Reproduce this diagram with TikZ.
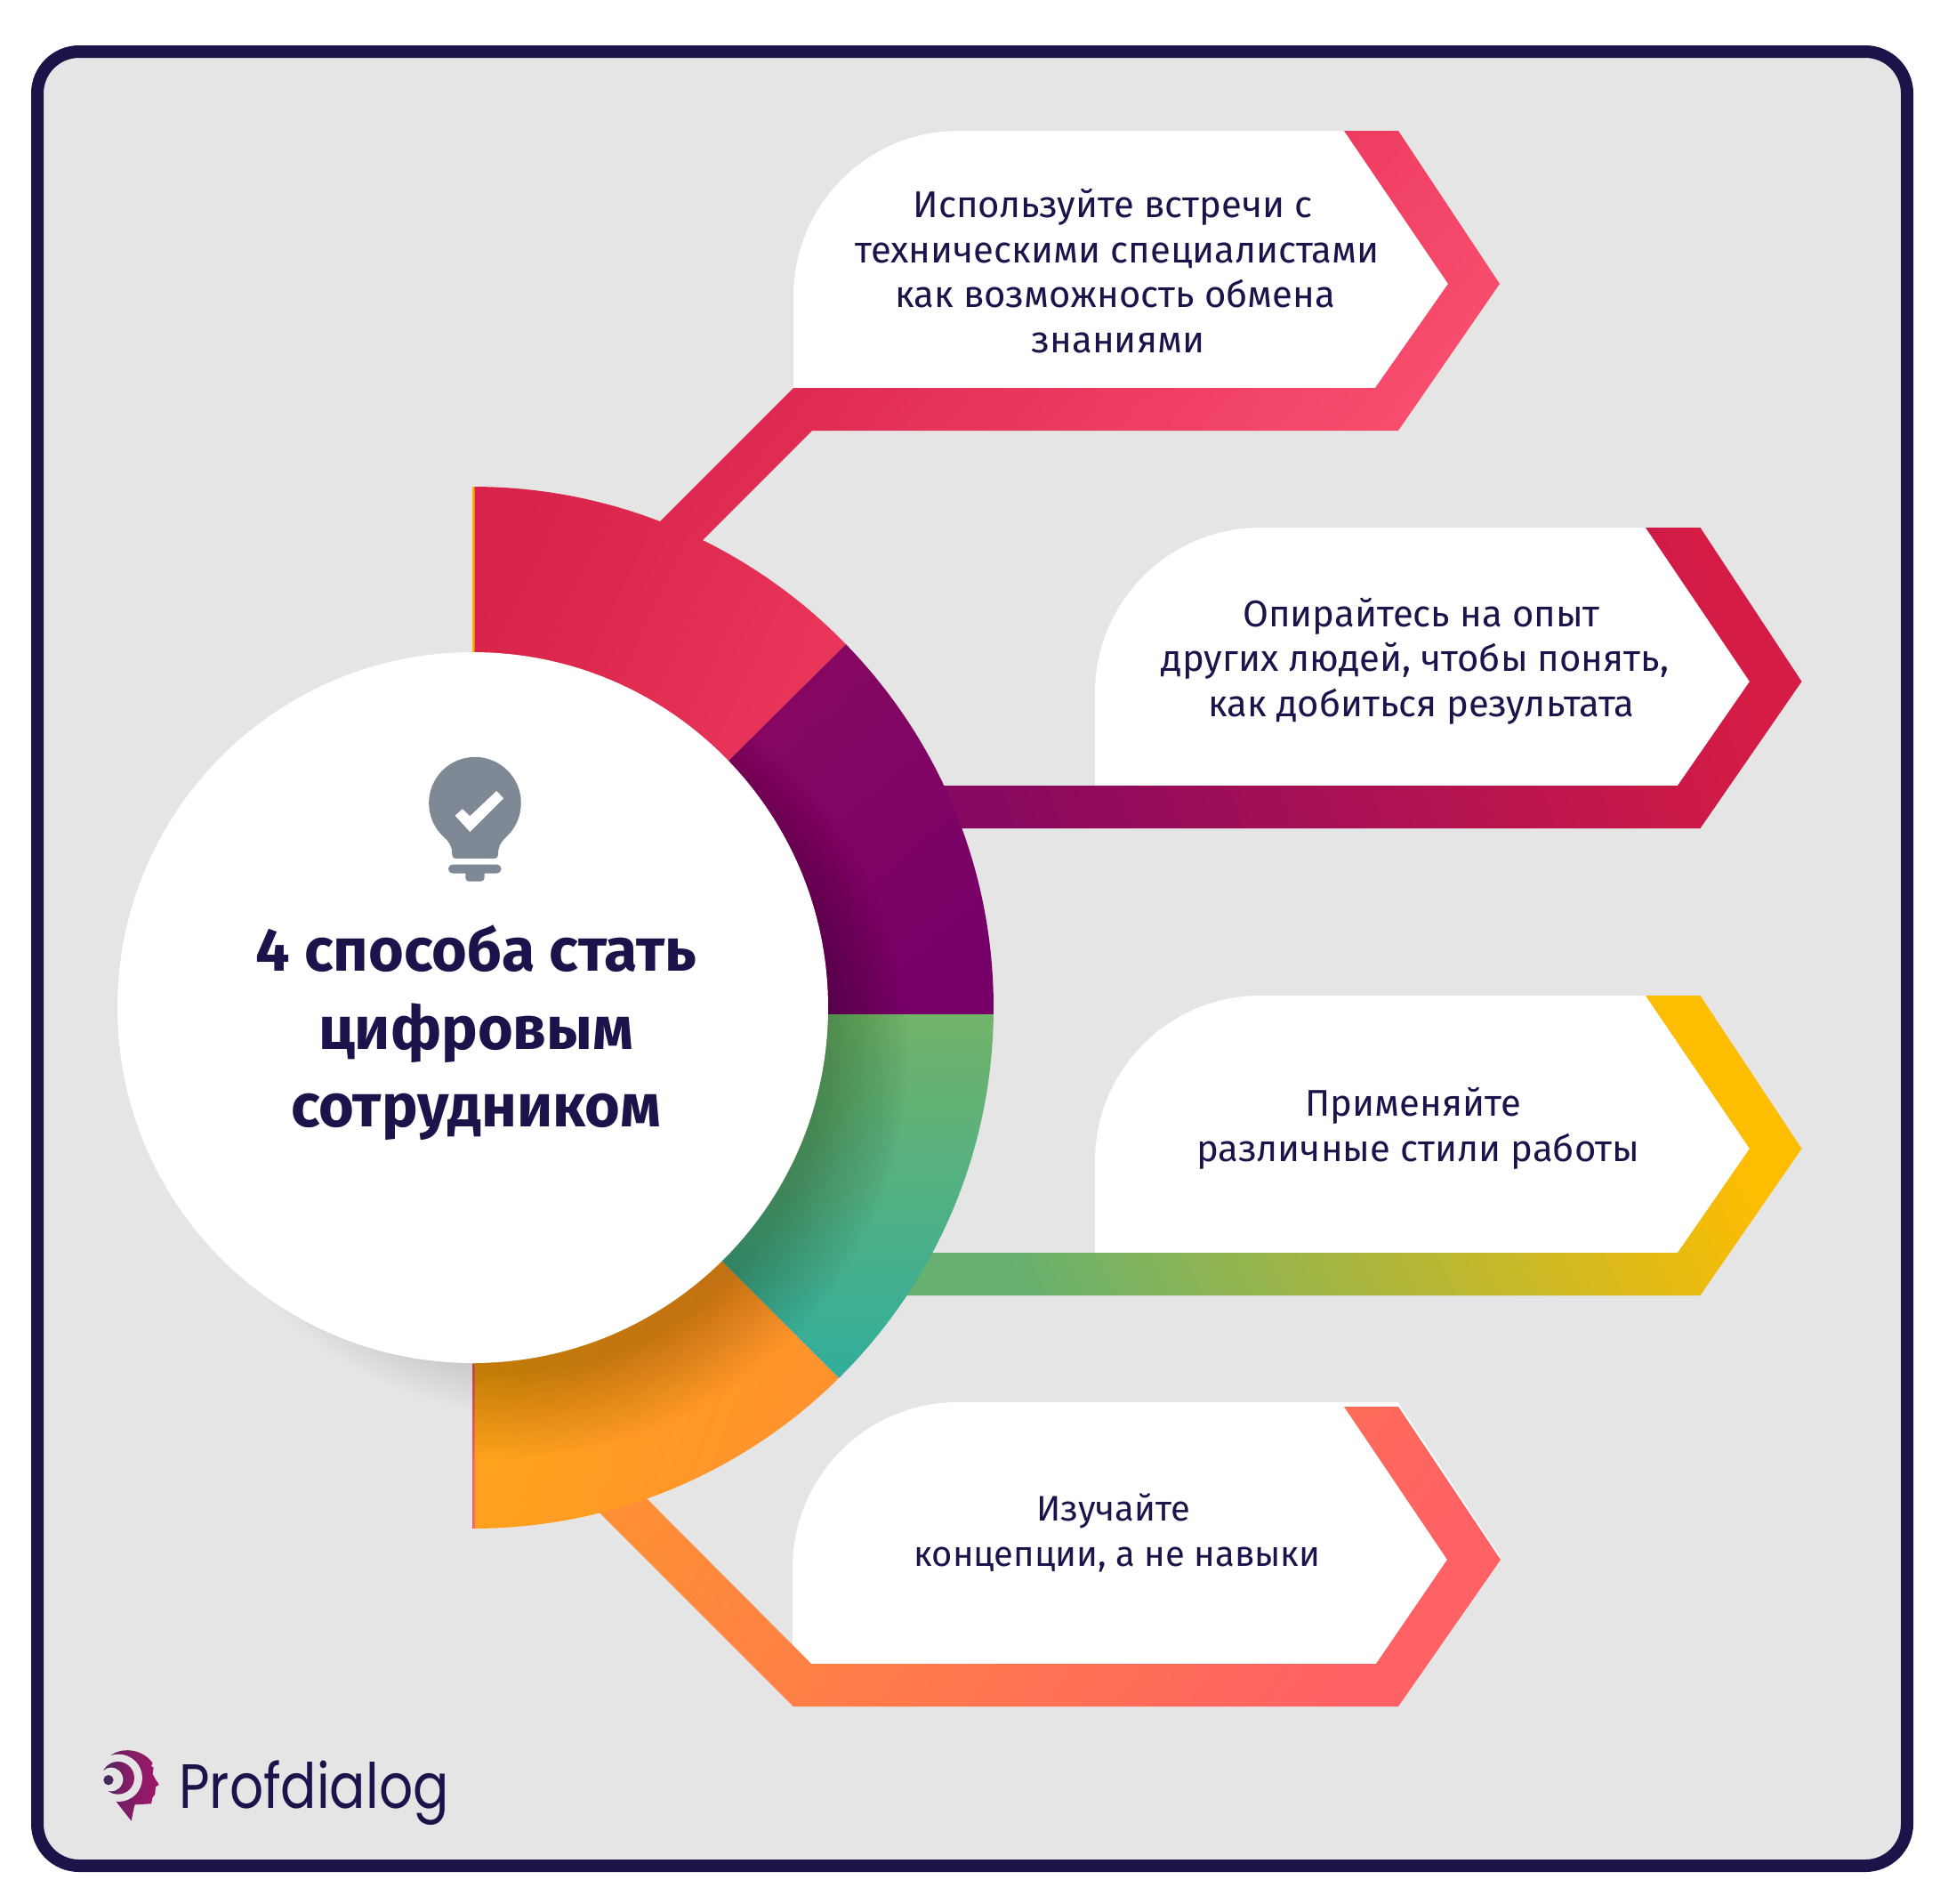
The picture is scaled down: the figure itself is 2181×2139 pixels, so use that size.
\documentclass[tikz,border=0pt]{standalone}
\usepackage{fontspec}
\usepackage{graphicx}
\setmainfont{Fira Sans}
\newfontfamily\logofont{Poppins}
\definecolor{ink}{HTML}{1C134B}
\definecolor{frameink}{HTML}{1B1449}
\definecolor{panel}{HTML}{E5E5E5}
\definecolor{bulb}{HTML}{7F8895}
\definecolor{logoA}{HTML}{45285F}
\definecolor{logoB}{HTML}{A3166A}
\definecolor{redA}{HTML}{D8234A}
\definecolor{redB}{HTML}{EE3B5E}
\definecolor{bandRedA}{HTML}{D61E48}
\definecolor{bandRedB}{HTML}{FB5070}
\definecolor{purA}{HTML}{760068}
\definecolor{purB}{HTML}{8C0A60}
\definecolor{bandPurA}{HTML}{860860}
\definecolor{bandPurB}{HTML}{D51C45}
\definecolor{grnA}{HTML}{72B36A}
\definecolor{grnB}{HTML}{28ADA2}
\definecolor{bandGrnA}{HTML}{66B170}
\definecolor{bandGrnB}{HTML}{FFBD00}
\definecolor{orgA}{HTML}{FFA51A}
\definecolor{orgB}{HTML}{FF8E32}
\definecolor{bandOrgA}{HTML}{FF8E36}
\definecolor{bandOrgB}{HTML}{FF6165}
\tikzset{
  bodytext/.style={text=ink,align=center,anchor=base,inner sep=0pt,font=\fontsize{59.5}{71.7}\selectfont},
  smalltext/.style={bodytext,font=\fontsize{56.8}{71.7}\selectfont},
  titletext/.style={text=ink,align=center,anchor=base,inner sep=0pt,font=\fontsize{97}{123.8}\selectfont\bfseries},
  whitebox/.style={fill=white,draw=none},
}
\begin{document}
\begin{tikzpicture}[x=0.05cm,y=-0.05cm]
\useasboundingbox (0,0) rectangle (2181,2139);
\fill[white] (0,0) rectangle (2181,2139);
% frame
\draw[fill=panel,draw=frameink,line width=0.7cm,rounded corners=2.35cm] (42,58) rectangle (2144,2097);

% white boxes
\fill[whitebox] (892,436) -- (892,333) .. controls (892,230.3) and (975.3,147) .. (1078,147) -- (1511,147) -- (1628,319) -- (1546,436) -- cycle;
\fill[whitebox] (1231,883) -- (1231,779) .. controls (1231,676.3) and (1314.3,593) .. (1417,593) -- (1850,593) -- (1967,766) -- (1886,883) -- cycle;
\fill[whitebox] (1231,1408) -- (1231,1305) .. controls (1231,1202.3) and (1314.3,1119) .. (1417,1119) -- (1850,1119) -- (1967,1291) -- (1886,1408) -- cycle;
\fill[whitebox] (891,1880) -- (891,1762) .. controls (891,1659.3) and (974.3,1576) .. (1077,1576) -- (1571.5,1576) -- (1687,1750) -- (1572,1900) -- cycle;

% bands
\shade[bottom color=bandRedA,top color=bandRedB,shading angle=-130]
  (702,626) -- (892,436) -- (1546,436) -- (1628,319) -- (1511,147) -- (1572,147) -- (1686,319) -- (1572,484) -- (913,484) -- (750,647) -- cycle;
\shade[bottom color=bandPurA,top color=bandPurB,shading angle=-72]
  (1000,883) -- (1886,883) -- (1967,766) -- (1850,593) -- (1911.5,593) -- (2025.5,766) -- (1911.5,931) -- (1000,931) -- cycle;
\shade[bottom color=bandGrnA,top color=bandGrnB,shading angle=-65]
  (1000,1408) -- (1886,1408) -- (1967,1291) -- (1850,1119) -- (1911.5,1119) -- (2025.5,1291) -- (1911.5,1456) -- (1000,1456) -- cycle;
\shade[bottom color=bandOrgA,top color=bandOrgB,shading angle=-125]
  (690,1647) -- (912,1870) -- (1547,1870) -- (1627,1753) -- (1511,1581) -- (1572,1581) -- (1687,1753) -- (1572,1918) -- (892,1918) -- (640,1666) -- cycle;

% soft shadow on the panel
\begin{scope}
\clip (200,1300) rectangle (531,1700);
\foreach \r in {372,376,...,428}{
  \fill[black,opacity=0.009] (610,1165) circle[radius=\r*0.05cm];
}
\end{scope}

% ring segments
\begin{scope}
\clip (531.5,1132.5) circle[radius=29.275cm];
\fill[color={rgb,255:red,255;green,176;blue,0}] (531,500) rectangle (533.5,733);
\fill[color={rgb,255:red,255;green,90;blue,110}] (531,1533) rectangle (533.5,1800);
\shade[bottom color=redA,top color=redB,shading angle=-115]
  (533.5,500) -- (1050,500) -- (1050,626) -- (700,973) -- (533.5,973) -- cycle;
\shade[bottom color=purA,top color=purB,shading angle=40]
  (700,973) -- (1050,626) -- (1200,626) -- (1200,1140) -- (700,1140) -- cycle;
\shade[top color=grnA,bottom color=grnB]
  (700,1140) -- (1200,1140) -- (1200,1606) -- (1000,1606) -- (700,1306) -- cycle;
\shade[bottom color=orgA,top color=orgB,shading angle=-110]
  (533.5,1306) -- (700,1306) -- (1000,1606) -- (1000,1800) -- (533.5,1800) -- cycle;
% soft shadow on the ring, none on the red segment
\clip (700,973) -- (1050,626) -- (1200,626) -- (1200,1800) -- (531,1800) -- (531,973) -- cycle;
\foreach \r in {360,365,...,455}{
  \fill[black,opacity=0.012] (565,1185) circle[radius=\r*0.05cm];
}
\end{scope}

% central disc
\fill[white] (531.5,1132.5) circle[radius=19.975cm];

% bulb icon
\begin{scope}[shift={(420,800)},x=0.016667cm,y=-0.016667cm]
\fill[bulb] (342,308) circle[radius=2.59cm];
\fill[bulb] (225,400) -- (240,425) .. controls (258,442) and (265,458) .. (265,480) .. controls (265,490) and (270,495) .. (280,495) -- (405,495) .. controls (415,495) and (420,490) .. (420,480) .. controls (420,458) and (427,442) .. (445,425) -- (460,400) -- cycle;
\fill[bulb,rounded corners=0.25cm] (252,515) rectangle (431,545);
\fill[bulb,rounded corners=0.2cm] (310,530) rectangle (374,572);
\fill[white] (275,350) -- (300,328) -- (325,352) -- (415,267) -- (438,292) -- (325,405) -- cycle;
\end{scope}

% texts
\node[titletext] (title) at (535.5,1266) {4 способа стать\\цифровым\\сотрудником};
\node[bodytext] (t1) at (1254,396) {Используйте встречи с\hspace*{0.3cm}\\\hspace*{0.2cm}техническими специалистами\\как возможность обмена\hspace*{0.6cm}\\\hspace*{0.3cm}знаниями};
\node[bodytext] (t2) at (1591,805) {\hspace*{0.7cm}Опирайтесь на опыт\\других людей, чтобы понять,\\\hspace*{0.7cm}как добиться результата};
\node[bodytext] (t3) at (1594,1305) {Применяйте\hspace*{0.5cm}\\различные стили работы};
\node[smalltext] (t4) at (1256,1760) {Изучайте\hspace*{0.4cm}\\концепции, а не навыки};

% logo
\begin{scope}[shift={(80,1920)},x=0.016667cm,y=-0.016667cm]
\shade[left color=logoA!60!logoB,right color=logoB]
 (135,158) .. controls (165,135) and (235,130) .. (275,185) -- (270,195) -- (278,200) -- (275,222) -- (285,240) -- (297,258) -- (285,265) -- (283,290) -- (275,300) -- (270,322) -- (215,325) -- (210,345) -- (203,380) -- (148,310) -- cycle;
\fill[panel] (160,235) circle[radius=1.333cm];
\shade[left color=logoA,right color=logoB!85!logoA] (158,235) circle[radius=0.917cm];
\fill[panel] (135,240) circle[radius=0.667cm];
\fill[logoA] (126,242) circle[radius=0.283cm];
\end{scope}
\node[text=ink,anchor=base west,inner sep=0pt,font=\logofont\fontsize{100}{100}\selectfont] (logo) at (201,2032) {\scalebox{0.85}[1]{Profdialog}};
\end{tikzpicture}
\end{document}
